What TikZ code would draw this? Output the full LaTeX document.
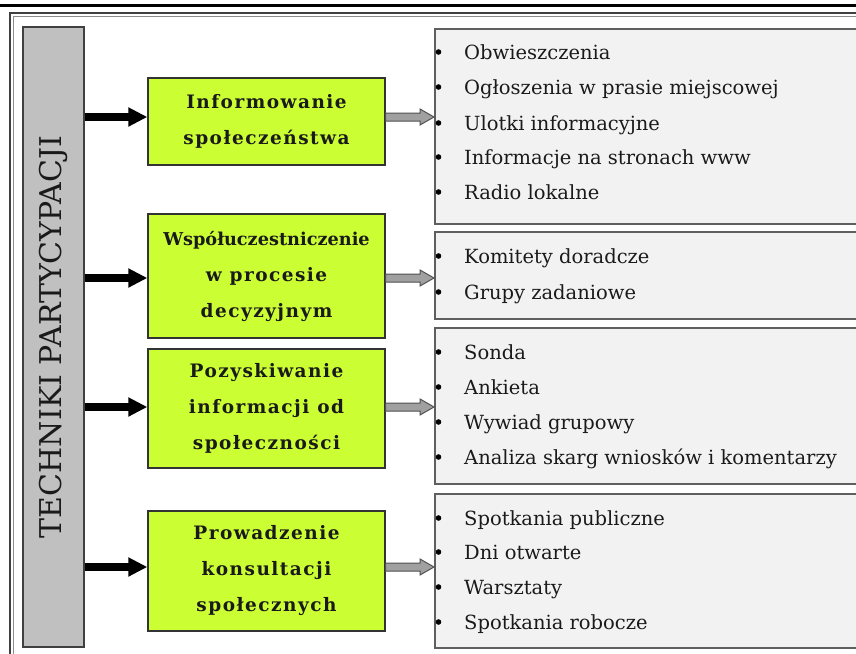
\documentclass[tikz,border=0pt]{standalone}
\usepackage{fontspec}
\setmainfont{DejaVu Serif}
\usetikzlibrary{arrows.meta,calc}
\definecolor{gfill}{HTML}{CCFF33}
\definecolor{barfill}{HTML}{C0C0C0}
\definecolor{lfill}{HTML}{F2F2F2}
\definecolor{lborder}{HTML}{5F5F5F}
\definecolor{gaborder}{HTML}{505050}
\definecolor{gafill}{HTML}{A0A0A0}
\definecolor{txt}{HTML}{1A1A1A}
\tikzset{
  gbox/.style={draw=black!80, line width=1.3pt, fill=gfill, minimum width=237pt,
    inner sep=0pt, align=center, text=txt, font=\fontsize{18.5}{36}\selectfont\bfseries\addfontfeature{LetterSpace=8}},
  lbox/.style={draw=lborder, line width=2pt, fill=lfill, minimum width=440pt, anchor=north west, inner sep=0pt},
  itemtext/.style={anchor=base west, inner sep=0pt, text=txt, font=\fontsize{19.5}{24}\selectfont},
  blackarrow/.style={line width=8pt, -{Triangle[length=19pt,width=18pt]}},
  garrow/.style={draw=gaborder, line width=1pt, fill=gafill},
  bullet/.style={fill=black}
}
\newcommand{\grayarr}[2]{%
  \draw[garrow] ($(#1)+(0,-4)$) -- ($(#2)+(-14,-4)$) -- ($(#2)+(-14,-8)$) -- (#2)
    -- ($(#2)+(-14,8)$) -- ($(#2)+(-14,4)$) -- ($(#1)+(0,4)$) -- cycle;}
\begin{document}
\begin{tikzpicture}[x=1pt,y=-1pt]
\useasboundingbox (0,0) rectangle (856,653);
\fill[white] (0,0) rectangle (856,653);
% top rule and frame
\draw[line width=3pt] (0,5) -- (856,5);
\draw[black!75, line width=1.4pt] (10,13) rectangle (880,680);
\draw[black!45, line width=1pt] (13.5,16.5) rectangle (876,676);
% left bar
\node[draw=black!75, line width=1.3pt, fill=barfill, minimum width=61pt, minimum height=620pt, inner sep=0pt, text=txt]
  (bar) at (53.5,337) {\rotatebox{90}{\fontsize{30}{30}\selectfont TECHNIKI PARTYCYPACJI}};
% green boxes
\node[gbox, minimum height=87pt] (g1) at (266.5,121.5) {Informowanie\\społeczeństwa};
\node[gbox, minimum height=124pt] (g2) at (266.5,276) {{\fontsize{17.7}{36}\selectfont\addfontfeature{LetterSpace=0}Współuczestniczenie}\\w procesie\\decyzyjnym};
\node[gbox, minimum height=119pt] (g3) at (266.5,408.5) {Pozyskiwanie\\informacji od\\społeczności};
\node[gbox, minimum height=120pt] (g4) at (266.5,571) {Prowadzenie\\konsultacji\\społecznych};
% list boxes
\node[lbox, minimum height=195pt] (l1) at (434,28) {};
\node[lbox, minimum height=87pt] (l2) at (434,231) {};
\node[lbox, minimum height=156pt] (l3) at (434,327) {};
\node[lbox, minimum height=154pt] (l4) at (434,493) {};
% arrow levels
\coordinate (a1) at (0,117);
\coordinate (a2) at (0,278);
\coordinate (a3) at (0,407);
\coordinate (a4) at (0,567);
% black arrows
\draw[blackarrow] (bar.east |- a1) -- (g1.west |- a1);
\draw[blackarrow] (bar.east |- a2) -- (g2.west |- a2);
\draw[blackarrow] (bar.east |- a3) -- (g3.west |- a3);
\draw[blackarrow] (bar.east |- a4) -- (g4.west |- a4);
% gray arrows
\coordinate (s1) at (g1.east |- a1); \coordinate (e1) at (l1.west |- a1);
\coordinate (s2) at (g2.east |- a2); \coordinate (e2) at (l2.west |- a2);
\coordinate (s3) at (g3.east |- a3); \coordinate (e3) at (l3.west |- a3);
\coordinate (s4) at (g4.east |- a4); \coordinate (e4) at (l4.west |- a4);
\grayarr{s1}{e1}
\grayarr{s2}{e2}
\grayarr{s3}{e3}
\grayarr{s4}{e4}
% items
\foreach \y/\t/\n in {52/Obwieszczenia/i11, 87/Ogłoszenia w prasie miejscowej/i12, 123/Ulotki informacyjne/i13,
  157/Informacje na stronach www/i14, 192/Radio lokalne/i15,
  256/Komitety doradcze/i21, 292/Grupy zadaniowe/i22,
  352/Sonda/i31, 387/Ankieta/i32, 422/Wywiad grupowy/i33, 457/Analiza skarg wniosków i komentarzy/i34,
  518/Spotkania publiczne/i41, 552/Dni otwarte/i42, 587/Warsztaty/i43, 622/Spotkania robocze/i44}{
  \fill[bullet] (438.5,\y) circle (2.8pt);
  \node[itemtext] (\n) at (464,\y+7) {\t};
}
\end{tikzpicture}
\end{document}
